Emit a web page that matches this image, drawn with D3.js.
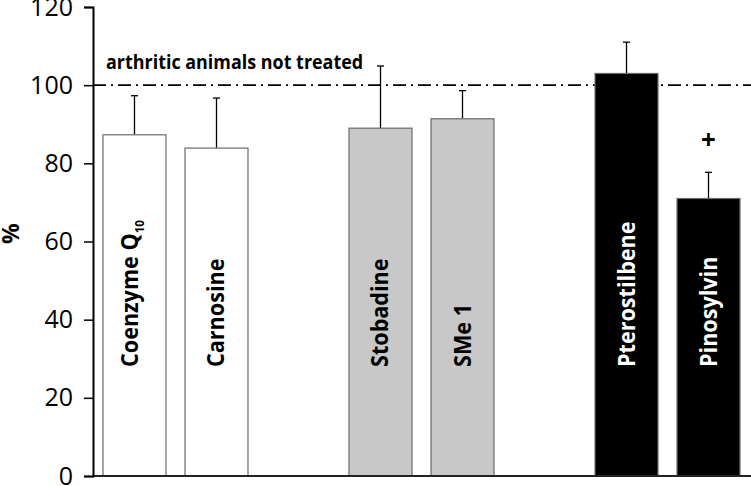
<!DOCTYPE html>
<html>
<head>
<meta charset="utf-8">
<script src="https://cdn.jsdelivr.net/npm/d3@7"></script>
<style>
  body { margin: 0; background: #fff; }
  svg { display: block; }
  text { font-family: "Open Sans", "DejaVu Sans", sans-serif; }
</style>
</head>
<body>
<script>
// data
var treatments = ['Coenzyme Q', 'Carnosine', 'Stobadine', 'SMe 1', 'Pterostilbene', 'Pinosylvin'];
var slots = ['Coenzyme Q', 'Carnosine', 'gap1', 'Stobadine', 'SMe 1', 'gap2', 'Pterostilbene', 'Pinosylvin'];
var means = [87.3, 83.9, 89.0, 91.4, 103.0, 71.0];
var errors = [10.0, 12.8, 15.9, 7.2, 8.0, 6.7];
var groups = ['white', 'white', 'grey', 'grey', 'black', 'black'];
var yTicks = [0, 20, 40, 60, 80, 100, 120];
var referenceValue = 100;
var referenceLabel = 'arthritic animals not treated';
var significant = [false, false, false, false, false, true];

var w = 751, h = 486;
var fills = { white: '#ffffff', grey: '#c8c8c8', black: '#000000' };
var textColors = { white: '#000', grey: '#000', black: '#fff' };

var svg = d3.select('body')
  .append('svg')
  .attr('width', w)
  .attr('height', h);

var x = d3.scaleBand()
  .domain(slots)
  .range([93, 750])
  .paddingInner(0.232)
  .paddingOuter(0.122);

var y = d3.scaleLinear()
  .domain([0, 120])
  .range([476, 7]);

var data = treatments.map(function (t, i) {
  return { name: t, mean: means[i], err: errors[i], group: groups[i], sig: significant[i] };
});

// reference line (dash-dot)
svg.append('line')
  .attr('x1', 93).attr('x2', w)
  .attr('y1', y(referenceValue)).attr('y2', y(referenceValue))
  .attr('stroke', '#000')
  .attr('stroke-width', 1.6)
  .attr('stroke-dasharray', '13,5,2,5');

svg.append('text')
  .attr('transform', 'translate(106,69) scale(0.92,1)')
  .attr('font-size', '19.5px')
  .attr('font-weight', 'bold')
  .text(referenceLabel);

// error bars (upper only)
var eb = svg.selectAll('g.err').data(data).enter().append('g').attr('class', 'err');
eb.append('line')
  .attr('x1', function (d) { return x(d.name) + x.bandwidth() / 2; })
  .attr('x2', function (d) { return x(d.name) + x.bandwidth() / 2; })
  .attr('y1', function (d) { return y(d.mean); })
  .attr('y2', function (d) { return y(d.mean + d.err); })
  .attr('stroke', '#000')
  .attr('stroke-width', 1.3);
eb.append('line')
  .attr('x1', function (d) { return x(d.name) + x.bandwidth() / 2 - 3.5; })
  .attr('x2', function (d) { return x(d.name) + x.bandwidth() / 2 + 3.5; })
  .attr('y1', function (d) { return y(d.mean + d.err); })
  .attr('y2', function (d) { return y(d.mean + d.err); })
  .attr('stroke', '#000')
  .attr('stroke-width', 1.3);

// bars
svg.selectAll('rect.bar').data(data)
  .enter()
  .append('rect')
  .attr('class', 'bar')
  .attr('x', function (d) { return x(d.name); })
  .attr('y', function (d) { return y(d.mean); })
  .attr('width', x.bandwidth())
  .attr('height', function (d) { return y(0) - y(d.mean); })
  .attr('fill', function (d) { return fills[d.group]; })
  .attr('stroke', '#6b6b6b')
  .attr('stroke-width', 1.2);

// vertical labels inside bars
var labels = svg.selectAll('text.lbl').data(data)
  .enter()
  .append('text')
  .attr('class', 'lbl')
  .attr('transform', function (d, i) {
    var cx = x(d.name) + x.bandwidth() / 2 + (i === 0 ? 4 : 8);
    return 'translate(' + cx + ',367) rotate(-90) scale(0.9,1)';
  })
  .attr('font-size', '24px')
  .attr('font-weight', 'bold')
  .attr('fill', function (d) { return textColors[d.group]; });
labels.append('tspan').text(function (d) { return d.name; });
labels.filter(function (d, i) { return i === 0; })
  .append('tspan')
  .attr('font-size', '13px')
  .attr('dy', 5)
  .attr('dx', 0)
  .text('10');

// significance mark
svg.selectAll('text.sig').data(data.filter(function (d) { return d.sig; }))
  .enter()
  .append('text')
  .attr('class', 'sig')
  .attr('x', function (d) { return x(d.name) + x.bandwidth() / 2; })
  .attr('y', function (d) { return y(d.mean + d.err) - 23; })
  .attr('text-anchor', 'middle')
  .attr('font-size', '26px')
  .attr('font-weight', 'bold')
  .text('+');

// baseline
svg.append('line')
  .attr('x1', 93).attr('x2', w)
  .attr('y1', y(0)).attr('y2', y(0))
  .attr('stroke', '#222')
  .attr('stroke-width', 2);

// y axis
var yAxis = d3.axisLeft(y)
  .tickValues(yTicks)
  .tickSize(9)
  .tickPadding(11);

var ga = svg.append('g')
  .attr('transform', 'translate(93,0)')
  .call(yAxis);
ga.select('.domain').attr('stroke-width', 2);
ga.selectAll('.tick line').attr('stroke-width', 1.5);
ga.selectAll('.tick text')
  .attr('font-size', '25px')
  .attr('font-family', '"Open Sans", sans-serif')
  .attr('fill', '#000');

svg.append('text')
  .attr('transform', 'translate(19,' + y(62) + ') rotate(-90)')
  .attr('text-anchor', 'middle')
  .attr('font-size', '23px')
  .attr('font-weight', 'bold')
  .text('%');
</script>
</body>
</html>
